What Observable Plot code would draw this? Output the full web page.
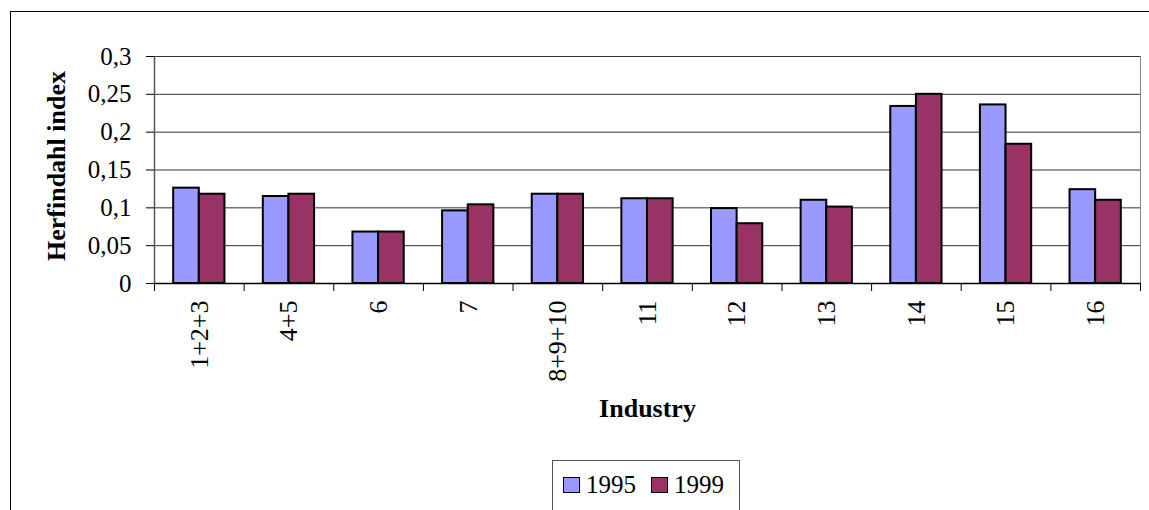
<!DOCTYPE html>
<html>
<head>
<meta charset="utf-8">
<script src="https://cdn.jsdelivr.net/npm/d3@7"></script>
<script src="https://cdn.jsdelivr.net/npm/@observablehq/plot@0.6"></script>
<style>
  body { margin: 0; background: #fff; font-family: "Liberation Serif", "Times New Roman", serif; }
  #wrap { position: relative; width: 1149px; height: 510px; overflow: hidden; background: #fff; }
  #border { position: absolute; left: 10px; top: 11px; width: 1300px; height: 700px;
            border-top: 1px solid #000; border-left: 1px solid #000; }
  #chart { position: absolute; left: 0; top: 0; }
  #chart svg, #chart svg text { font-family: "Liberation Serif", "Times New Roman", serif !important; }
  #legend { position: absolute; left: 552px; top: 460px; width: 188px; height: 80px;
            border: 1px solid #555; box-sizing: border-box; background: #fff; }
  #legend .item { position: absolute; top: 11px; display: flex; align-items: center; font-size: 25px; line-height: 25px; color: #000; }
  #legend .sw { width: 15px; height: 14px; border: 1.5px solid #000; margin-right: 6px; }
</style>
</head>
<body>
<div id="wrap">
  <div id="border"></div>
  <div id="chart"></div>
  <div id="legend"></div>
</div>
<script>
// Herfindahl concentration index by industry, 1995 vs 1999
const industries = ["1+2+3", "4+5", "6", "7", "8+9+10", "11", "12", "13", "14", "15", "16"];
const years = ["1995", "1999"];
const h1995 = [0.126, 0.115, 0.068, 0.096, 0.118, 0.112, 0.099, 0.110, 0.234, 0.236, 0.124];
const h1999 = [0.118, 0.118, 0.068, 0.104, 0.118, 0.112, 0.079, 0.101, 0.250, 0.184, 0.110];
const yTicks = [0, 0.05, 0.1, 0.15, 0.2, 0.25, 0.3];
const yearColors = ["#9999FF", "#993366"];

const serif = "Liberation Serif, Times New Roman, serif";
const W = 1149, H = 430;
const ML = 154, MR = 9, MT = 56, MB = 147;
const step = (W - ML - MR) / industries.length;
const barW = step * 0.286;
const gap = (step - 2 * barW) / 2;

const rows = industries.flatMap((industry, i) => [
  {industry, year: years[0], value: h1995[i]},
  {industry, year: years[1], value: h1999[i]}
]);

const commaFormat = d => String(d).replace(".", ",");

const chart = Plot.plot({
  width: W,
  height: H,
  marginLeft: ML,
  marginRight: MR,
  marginTop: MT,
  marginBottom: MB,
  style: {fontFamily: serif, color: "#000", background: "transparent"},
  x: {domain: industries, padding: 0, round: false, axis: null},
  y: {domain: [0, 0.3], axis: null},
  marks: [
    Plot.frame({stroke: "#888"}),
    Plot.ruleY(yTicks.slice(1), {stroke: "#333", strokeWidth: 1}),
    // y axis line at the left edge of the first category band
    Plot.ruleX([industries[0]], {x: d => d, dx: -step / 2, stroke: "#555", strokeWidth: 1.5}),
    Plot.barY(rows.filter(d => d.year === years[0]), {
      x: "industry", y: "value", fill: yearColors[0], stroke: "#000", strokeWidth: 2,
      insetLeft: gap, insetRight: step - gap - barW
    }),
    Plot.barY(rows.filter(d => d.year === years[1]), {
      x: "industry", y: "value", fill: yearColors[1], stroke: "#000", strokeWidth: 2,
      insetLeft: gap + barW, insetRight: gap
    }),
    Plot.ruleY([0], {stroke: "#000", strokeWidth: 1.5}),
    Plot.axisY(yTicks, {
      tickSize: 8, tickPadding: 15, tickFormat: commaFormat, fontSize: 25, fontFamily: serif,
      label: null, stroke: "#000"
    }),
    // tick marks between categories
    Plot.axisX(industries, {tickSize: 8, dx: -step / 2, tickFormat: () => "", label: null}),
    Plot.axisX([industries[industries.length - 1]], {tickSize: 8, dx: step / 2, tickFormat: () => "", label: null}),
    // rotated category labels
    Plot.axisX(industries, {
      tickSize: 0, tickRotate: -90, tickPadding: 17, fontSize: 26, fontFamily: serif, label: null
    }),
    Plot.text(["Herfindahl index"], {
      text: d => d, frameAnchor: "left", textAnchor: "middle", dx: -98, dy: -4, rotate: -90,
      fontWeight: "bold", fontSize: 26, fontFamily: serif
    }),
    Plot.text(["Industry"], {
      text: d => d, frameAnchor: "bottom", dy: 133, fontWeight: "bold", fontSize: 26, fontFamily: serif
    })
  ]
});
document.getElementById("chart").appendChild(chart);

// legend
const legend = document.getElementById("legend");
const legendLeft = [10, 98];
years.forEach((y, i) => {
  const item = document.createElement("div");
  item.className = "item";
  item.style.left = legendLeft[i] + "px";
  const sw = document.createElement("div");
  sw.className = "sw";
  sw.style.background = yearColors[i];
  item.appendChild(sw);
  item.appendChild(document.createTextNode(y));
  legend.appendChild(item);
});
</script>
</body>
</html>
